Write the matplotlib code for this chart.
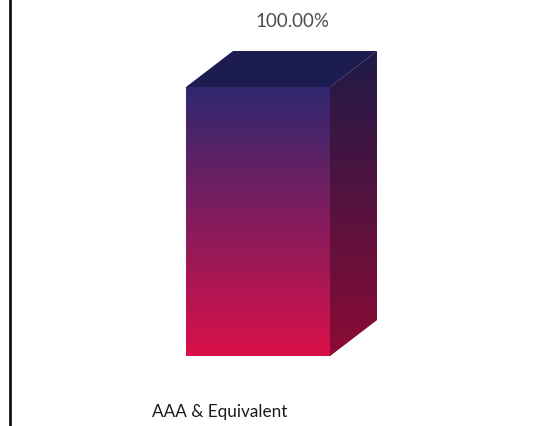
import numpy as np
import matplotlib.pyplot as plt
from matplotlib.colors import LinearSegmentedColormap
from matplotlib.patches import Polygon

categories = ['AAA & Equivalent']
values = [100.0]
value_labels = ['100.00%']

plt.rcParams['font.family'] = ['Lato', 'DejaVu Sans']

fig = plt.figure(figsize=(5.52, 4.27), dpi=100)
ax = fig.add_axes([10 / 552, 0, 542 / 552, 1])

# axis limits chosen so the bar sits where it does in the picture
ax.set_xlim(-1.378, 1.633)
ax.set_ylim(-26.0, 132.7)

bars = ax.bar(categories, values, width=0.8, facecolor='none', edgecolor='none')

front_cmap = LinearSegmentedColormap.from_list('front', ['#da1049', '#2e2870'])
side_cmap = LinearSegmentedColormap.from_list('side', ['#8c0b35', '#1e1a48'])
top_color = '#1d1c50'

# depth of the fake 3d box in pixels
dx_px, dy_px = 47, 36
inv = ax.transData.inverted()
x0d, y0d = inv.transform((0, 0))
x1d, y1d = inv.transform((dx_px, dy_px))
ddx, ddy = x1d - x0d, y1d - y0d

grad = np.linspace(0, 1, 256).reshape(-1, 1)

for rect in bars:
    x = rect.get_x()
    w = rect.get_width()
    h = rect.get_height()

    im = ax.imshow(grad, cmap=front_cmap, aspect='auto', origin='lower',
                   extent=[x, x + w, 0, h], zorder=2)
    im.set_clip_path(rect)

    side = Polygon([[x + w, 0], [x + w + ddx, ddy], [x + w + ddx, h + ddy], [x + w, h]],
                   closed=True, facecolor='none', edgecolor='none')
    ax.add_patch(side)
    im2 = ax.imshow(grad, cmap=side_cmap, aspect='auto', origin='lower',
                    extent=[x + w, x + w + ddx, 0, h + ddy], zorder=2)
    im2.set_clip_path(side)

    top = Polygon([[x, h], [x + ddx, h + ddy], [x + w + ddx, h + ddy], [x + w, h]],
                  closed=True, facecolor=top_color, edgecolor='none', zorder=3)
    ax.add_patch(top)

ax.set_xlim(-1.378, 1.633)
ax.set_ylim(-26.0, 132.7)

for i, (cat, v, lab) in enumerate(zip(categories, values, value_labels)):
    ax.annotate(lab, xy=(i, v), xytext=(24.5, 48), textcoords='offset points',
                ha='center', va='center', fontsize=13.5, color='#4d4d4d')
    ax.annotate(cat, xy=(i, 0), xytext=(-76, -43), textcoords='offset points',
                ha='left', va='baseline', fontsize=12.3, color='#1a1a1a')

for s in ['top', 'right', 'bottom']:
    ax.spines[s].set_visible(False)
ax.spines['left'].set_linewidth(2)
ax.spines['left'].set_color('#111111')
ax.set_xticks([])
ax.set_yticks([])

fig.savefig('out.png', dpi=100)
